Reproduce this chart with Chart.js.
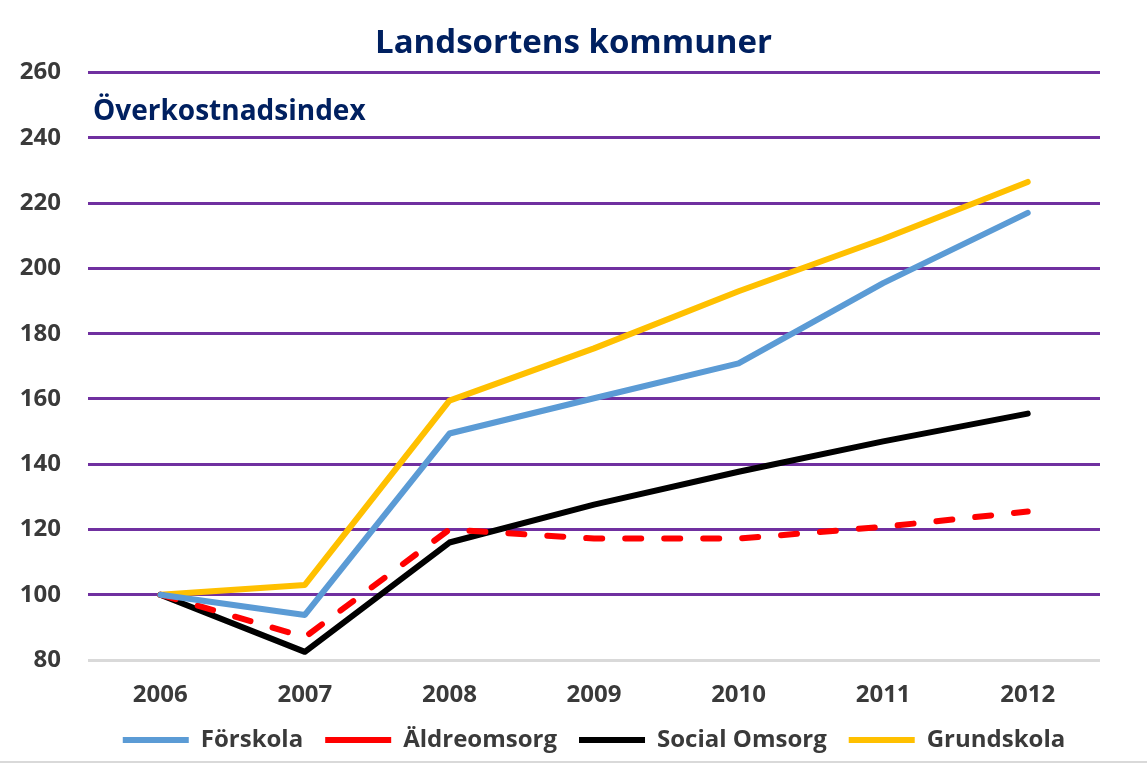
<!DOCTYPE html>
<html><head><meta charset="utf-8">
<script src="https://cdn.jsdelivr.net/npm/chart.js@4"></script>
<style>html,body{margin:0;padding:0;background:#fff}#wrap{width:1147px;height:764px}</style>
</head><body><div id="wrap"><canvas id="c" width="1147" height="764"></canvas></div>
<script>
const years = ['2006','2007','2008','2009','2010','2011','2012'];
const forskola = [100, 93.8, 149.4, 160.2, 170.9, 195.5, 217];
const aldreomsorg = [100, 87, 120, 117.2, 117.2, 120.8, 125.5];
const socialOmsorg = [100, 82.5, 116, 127.6, 137.7, 147, 155.5];
const grundskola = [100, 103, 159.5, 175.5, 193, 209, 226.5];
const seriesNames = ['Förskola', 'Äldreomsorg', 'Social Omsorg', 'Grundskola'];
const yTicks = [80, 100, 120, 140, 160, 180, 200, 220, 240, 260];
const titleText = 'Landsortens kommuner';
const subtitleText = 'Överkostnadsindex';

const FONT = '"Open Sans", "Noto Sans", "DejaVu Sans", sans-serif';

const extrasPlugin = {
  id: 'extras',
  afterDatasetsDraw(chart) {
    const {ctx, chartArea, scales} = chart;
    ctx.save();
    ctx.font = 'bold 28px ' + FONT;
    ctx.fillStyle = '#002060';
    ctx.textBaseline = 'middle';
    ctx.textAlign = 'left';
    ctx.fillText(subtitleText, chartArea.left + 5, scales.y.getPixelForValue(247.8));
    ctx.restore();
  },
  afterDraw(chart) {
    const {ctx, width, height} = chart;
    ctx.save();
    ctx.strokeStyle = '#d9d9d9';
    ctx.lineWidth = 2;
    ctx.beginPath();
    ctx.moveTo(0, height - 2);
    ctx.lineTo(width, height - 2);
    ctx.stroke();
    ctx.restore();
  }
};

const lineStyle = {borderWidth: 6, borderCapStyle: 'round', borderJoinStyle: 'round'};

new Chart(document.getElementById('c'), {
  type: 'line',
  data: {
    labels: years,
    datasets: [
      Object.assign({label: seriesNames[0], data: forskola, borderColor: '#5b9bd5', backgroundColor: '#5b9bd5'}, lineStyle),
      Object.assign({label: seriesNames[1], data: aldreomsorg, borderColor: '#ff0000', backgroundColor: '#ff0000', borderDash: [16, 23]}, lineStyle),
      Object.assign({label: seriesNames[2], data: socialOmsorg, borderColor: '#000000', backgroundColor: '#000000'}, lineStyle),
      Object.assign({label: seriesNames[3], data: grundskola, borderColor: '#ffc000', backgroundColor: '#ffc000'}, lineStyle)
    ]
  },
  options: {
    responsive: false,
    animation: false,
    devicePixelRatio: 1,
    elements: {point: {radius: 0, hoverRadius: 0}, line: {tension: 0}},
    layout: {padding: {left: 0, right: 0, top: 0, bottom: 2}},
    plugins: {
      title: {
        display: true, text: titleText, color: '#002060',
        font: {family: FONT, size: 33, weight: 'bold'},
        padding: {top: 24, bottom: 9}
      },
      legend: {
        position: 'bottom',
        fullSize: false,
        labels: {
          usePointStyle: true, pointStyle: 'line', pointStyleWidth: 66, boxHeight: 20,
          color: '#3a3a3a', font: {family: FONT, size: 24, weight: 'bold'},
          padding: 22
        }
      },
      tooltip: {enabled: false}
    },
    scales: {
      x: {
        offset: true,
        afterFit(scale) { scale.height = scale.height - 24; },
        grid: {display: false, drawTicks: false},
        border: {display: false},
        ticks: {color: '#3a3a3a', font: {family: FONT, size: 24, weight: 'bold', lineHeight: 1}, padding: 23}
      },
      y: {
        min: 80, max: 260,
        afterFit(scale) { scale.width = 88; },
        afterBuildTicks(scale) { scale.ticks = yTicks.map(v => ({value: v})); },
        border: {display: false},
        grid: {
          color: ctx => ctx.tick && ctx.tick.value === 80 ? '#d9d9d9' : '#7030a0',
          lineWidth: 3, drawTicks: false
        },
        ticks: {color: '#3a3a3a', font: {family: FONT, size: 24, weight: 'bold'}, padding: 27}
      },
      yRight: {
        type: 'linear', position: 'right', min: 80, max: 260,
        afterFit(scale) { scale.width = 47; },
        grid: {display: false, drawTicks: false},
        border: {display: false},
        ticks: {display: false}
      }
    }
  },
  plugins: [extrasPlugin]
});
</script></body></html>
